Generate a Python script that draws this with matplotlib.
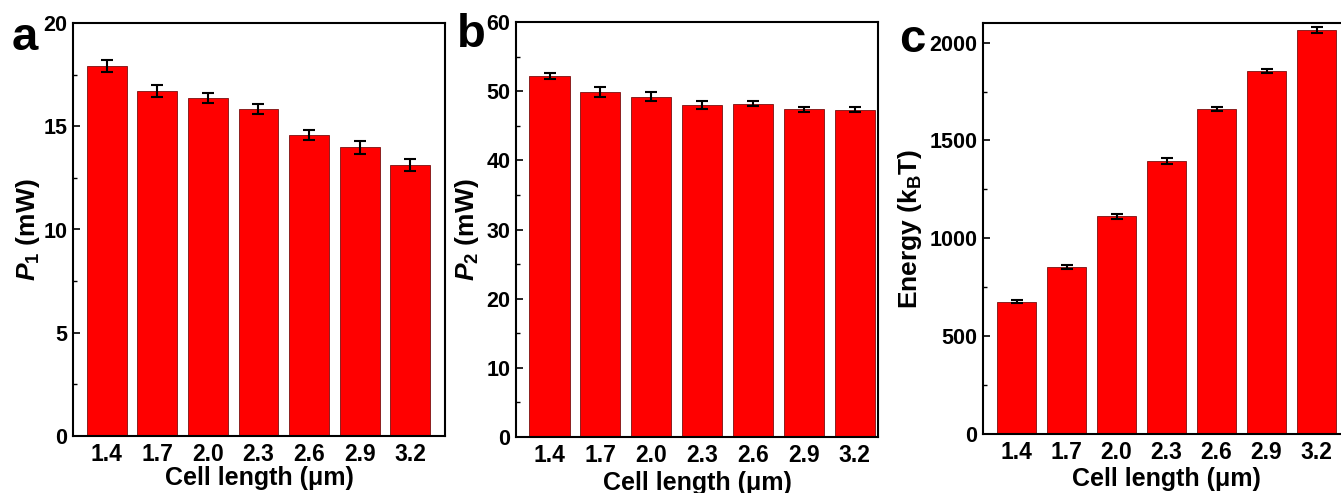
import numpy as np
import matplotlib
matplotlib.use("Agg")
import matplotlib.pyplot as plt
from matplotlib.ticker import MultipleLocator

plt.rcParams['font.family'] = ['Liberation Sans', 'DejaVu Sans']
plt.rcParams['font.weight'] = 'bold'
plt.rcParams['mathtext.fontset'] = 'custom'
plt.rcParams['mathtext.rm'] = 'Liberation Sans:bold'
plt.rcParams['mathtext.it'] = 'Liberation Sans:bold:italic'
plt.rcParams['mathtext.bf'] = 'Liberation Sans:bold'

cell_length = ["1.4", "1.7", "2.0", "2.3", "2.6", "2.9", "3.2"]

p1 = [17.93, 16.72, 16.37, 15.82, 14.57, 13.98, 13.12]
p1_err = [0.30, 0.30, 0.26, 0.24, 0.25, 0.32, 0.28]

p2 = [52.2, 49.9, 49.2, 48.0, 48.2, 47.4, 47.3]
p2_err = [0.4, 0.7, 0.65, 0.6, 0.4, 0.35, 0.35]

energy = [677, 855, 1113, 1393, 1662, 1855, 2065]
energy_err = [8, 10, 12, 15, 10, 10, 14]

W, H = 1341, 493
fig = plt.figure(figsize=(W / 100, H / 100), dpi=100)

def px_axes(left, top, right, bottom):
    return fig.add_axes([left / W, 1 - bottom / H, (right - left) / W, (bottom - top) / H])

panels = [
    # left, top, right, bottom, data, err, ylim, major, minor, ylabel, letter, xlim
    (73, 23, 445, 436, p1, p1_err, (0, 20), 5, 2.5, r"$\mathit{P}_1$ (mW)", "a", (-0.67, 6.69)),
    (516, 22, 878, 437, p2, p2_err, (0, 60), 10, 5, r"$\mathit{P}_2$ (mW)", "b", (-0.66, 6.46)),
    (983, 23, 1350, 434, energy, energy_err, (0, 2100), 500, 250, r"Energy (k$_\mathrm{B}$T)", "c", (-0.67, 6.67)),
]

letter_pos = [(12, 50), (457, 47), (899, 52)]
ylabel_x = [28, 467, 910]
xlabel_base = [485, 490, 486]

x = np.arange(len(cell_length))
for i, (l, t, r, b, vals, errs, ylim, major, minor, ylab, letter, xlim) in enumerate(panels):
    ax = px_axes(l, t, r, b)
    ax.bar(x, vals, width=0.79, color="#ff0000", edgecolor="#7a1010", linewidth=0.6,
           yerr=errs, error_kw=dict(ecolor="black", elinewidth=1.5, capsize=4, capthick=1.5))
    ax.set_xlim(*xlim)
    ax.set_ylim(*ylim)
    ax.set_xticks(x)
    ax.set_xticklabels(cell_length)
    ax.yaxis.set_major_locator(MultipleLocator(major))
    ax.yaxis.set_minor_locator(MultipleLocator(minor))
    ax.tick_params(axis="x", length=0, labelsize=16.5, pad=5)
    ax.tick_params(axis="y", which="major", direction="in", length=5, width=1.2, labelsize=15.5, pad=4)
    ax.tick_params(axis="y", which="minor", direction="in", length=3, width=1.0)
    for s in ax.spines.values():
        s.set_linewidth(1.5)
    ax.set_xlabel("Cell length (μm)", fontsize=18, fontweight="bold")
    ax.xaxis.set_label_coords(0.5, (b - xlabel_base[i]) / (b - t))
    ax.xaxis.label.set_va("baseline")
    ax.set_ylabel(ylab, fontsize=19, fontweight="bold")
    ax.yaxis.set_label_coords((ylabel_x[i] - l) / (r - l), 0.5)
    ax.yaxis.label.set_va("center")
    fig.text(letter_pos[i][0] / W, 1 - letter_pos[i][1] / H, letter, fontsize=34,
             fontweight="bold", ha="left", va="baseline")

fig.savefig("out.png", dpi=100)
